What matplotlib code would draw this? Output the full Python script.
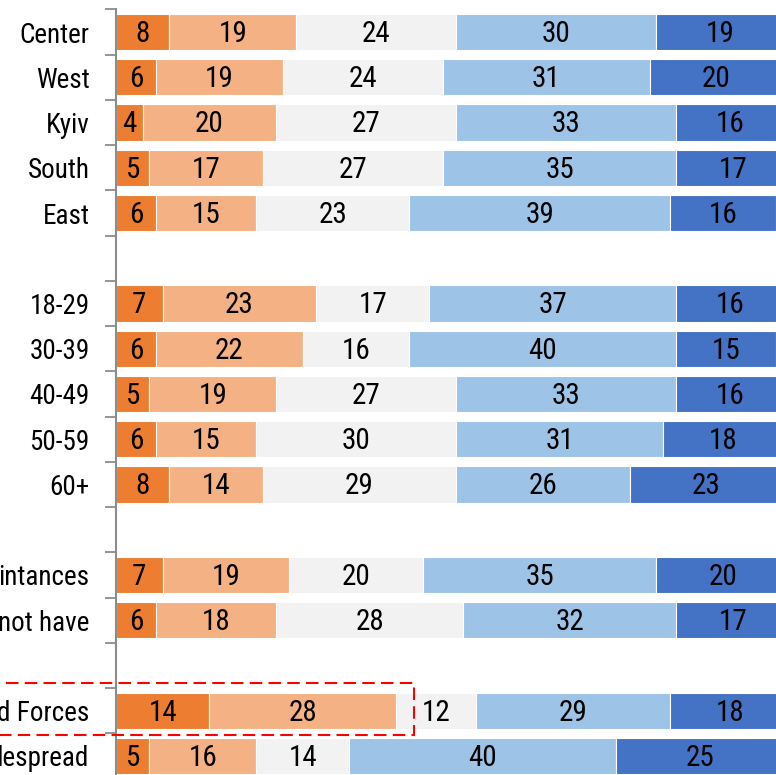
import numpy as np
import matplotlib
matplotlib.use("Agg")
import matplotlib.pyplot as plt
from matplotlib.patches import Rectangle

plt.rcParams['font.family'] = ['Roboto Condensed', 'Liberation Sans', 'DejaVu Sans']

# row labels (left part of the last ones is cut off in the reference)
labels = ["Center", "West", "Kyiv", "South", "East", "",
          "18-29", "30-39", "40-49", "50-59", "60+", "",
          "intances", "not have", "",
          "d Forces", "despread"]

# five answer categories, one list per category
s1 = [8, 6, 4, 5, 6, None, 7, 6, 5, 6, 8, None, 7, 6, None, 14, 5]
s2 = [19, 19, 20, 17, 15, None, 23, 22, 19, 15, 14, None, 19, 18, None, 28, 16]
s3 = [24, 24, 27, 27, 23, None, 17, 16, 27, 30, 29, None, 20, 28, None, 12, 14]
s4 = [30, 31, 33, 35, 39, None, 37, 40, 33, 31, 26, None, 35, 32, None, 29, 40]
s5 = [19, 20, 16, 17, 16, None, 16, 15, 16, 18, 23, None, 20, 17, None, 18, 25]

colors = ["#ED7D31", "#F4B183", "#F2F2F2", "#9DC3E6", "#4472C4"]

fig = plt.figure(figsize=(7.76, 7.75), dpi=100)
ax = fig.add_axes([116 / 776, -3.6 / 775, 667 / 776, 769.2 / 775])

y = np.arange(len(labels))
left = np.zeros(len(labels))
for vals, col in zip([s1, s2, s3, s4, s5], colors):
    v = np.array([0 if x is None else x for x in vals], dtype=float)
    ax.barh(y, v, left=left, height=0.8, color=col, edgecolor="white", linewidth=0.8)
    for i, x in enumerate(vals):
        if x is not None:
            ax.text(left[i] + x / 2, y[i] + 0.04, str(x), ha="center", va="center",
                    fontsize=21, color="black", clip_on=False)
    left += v

ax.set_xlim(0, 100)
ax.set_ylim(len(labels) - 0.5, -0.5)
ax.set_yticks(y)
ax.set_yticklabels(labels, fontsize=19.5)
ax.set_yticks(np.arange(-0.5, len(labels), 1), minor=True)
ax.tick_params(axis="y", which="major", length=0, pad=19)
ax.tick_params(axis="y", which="minor", length=8, width=1.3, color="#8C8C8C", direction="out")
ax.set_xticks([])
for sp in ["top", "right", "bottom"]:
    ax.spines[sp].set_visible(False)
ax.spines["left"].set_color("#8C8C8C")
ax.spines["left"].set_linewidth(1.5)

# red dashed box around the Armed Forces row
rect = Rectangle((-0.05, (775 - 735) / 775), (413 + 40) / 776, 52 / 775,
                 transform=fig.transFigure, fill=False, edgecolor="#FF0000",
                 linestyle=(0, (6, 3)), linewidth=1.5, clip_on=False)
fig.patches.append(rect)

fig.savefig("out.png", dpi=100)
